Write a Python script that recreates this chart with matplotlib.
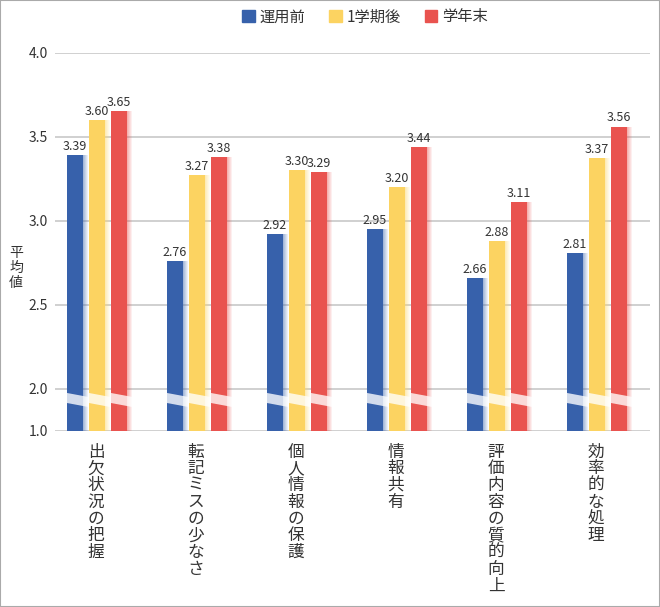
import numpy as np
import matplotlib
matplotlib.use("Agg")
import matplotlib.pyplot as plt
from matplotlib.patches import Rectangle, Polygon

plt.rcParams['font.family'] = ['Noto Sans CJK JP', 'DejaVu Sans']

# data
categories = ['出欠状況の把握', '転記ミスの少なさ', '個人情報の保護',
              '情報共有', '評価内容の質的向上', '効率的な処理']
series_names = ['運用前', '1学期後', '学年末']
before = [3.39, 2.76, 2.92, 2.95, 2.66, 2.81]
after_term1 = [3.60, 3.27, 3.30, 3.20, 2.88, 3.37]
year_end = [3.65, 3.38, 3.29, 3.44, 3.11, 3.56]
y_ticks = [1.0, 2.0, 2.5, 3.0, 3.5, 4.0]
base = 1.0

colors = ['#3761ab', '#fcd361', '#e9534f']
text_col = '#333333'


# broken axis: below 2.0 the scale is squeezed to a quarter
def fwd(v):
    v = np.asarray(v, dtype=float)
    return np.where(v >= 2, v, 2 - (2 - v) * 0.25)


def inv(p):
    p = np.asarray(p, dtype=float)
    return np.where(p >= 2, p, 2 - (2 - p) * 4)


fig = plt.figure(figsize=(6.6, 6.07), dpi=100)
ax = fig.add_axes([55 / 660, 176 / 607, 595 / 660, 378.5 / 607])
ax.set_yscale('function', functions=(fwd, inv))

x = np.arange(len(categories))
width = 0.165
fade = 0.05
offsets = [-0.25, -0.03, 0.19]
all_series = [before, after_term1, year_end]

for vals, off, col in zip(all_series, offsets, colors):
    left = x + off - width / 2
    heights = np.array(vals) - base
    ax.bar(left, heights, width=width, bottom=base, align='edge', color=col,
           linewidth=0, zorder=3)
    # light fading edge on the right of every bar
    n = 5
    for k in range(n):
        a = 0.45 * (1 - k / n)
        ax.bar(left + width + k * fade / n, heights, width=fade / n,
               bottom=base, align='edge', color=col, alpha=a, linewidth=0,
               zorder=3)
    for xl, v in zip(left, vals):
        ax.annotate(f'{v:.2f}', (xl + width / 2, v), xytext=(0, 1.5),
                    textcoords='offset points', ha='center', va='bottom',
                    fontsize=9, color=text_col, zorder=5)
        # break band
        xr = xl + width + fade
        band = Polygon([(xl, 1.905), (xr, 1.81), (xr, 1.571), (xl, 1.667)],
                       closed=True, facecolor='white', alpha=0.78,
                       edgecolor='none', zorder=4)
        ax.add_patch(band)

ax.set_xlim(-0.45, 5.5)
ax.set_ylim(1.0, 4.0)
ax.set_yticks(y_ticks)
ax.set_yticklabels([f'{t:.1f}' for t in y_ticks])
ax.yaxis.grid(True, color='#c8c8c8', linewidth=1.2, zorder=0)
ax.set_axisbelow(True)

ax.set_xticks(x - 0.04)
ax.set_xticklabels(['\n'.join(c) for c in categories], va='top')
for t in ax.get_xticklabels():
    t.set_linespacing(0.98)
ax.tick_params(axis='x', length=0, pad=9, labelsize=12, colors=text_col)
ax.tick_params(axis='y', length=0, pad=5, labelsize=10, colors=text_col)
for s in ax.spines.values():
    s.set_visible(False)

fig.text(16 / 660, 1 - 268 / 607, '平\n均\n値', ha='center', va='center',
         fontsize=10, color=text_col, linespacing=1.05)

handles = [Rectangle((0, 0), 1, 1, color=c) for c in colors]
fig.legend(handles, series_names, loc='center', bbox_to_anchor=(0.553, 0.972),
           ncol=3, frameon=False, fontsize=11, handlelength=0.8,
           handleheight=0.8, handletextpad=0.3, columnspacing=1.6,
           labelcolor=text_col)

fig.add_artist(Rectangle((0, 0), 1, 1, transform=fig.transFigure, fill=False,
                         edgecolor='#aaaaaa', linewidth=1.5))

fig.savefig('out.png', dpi=100)
